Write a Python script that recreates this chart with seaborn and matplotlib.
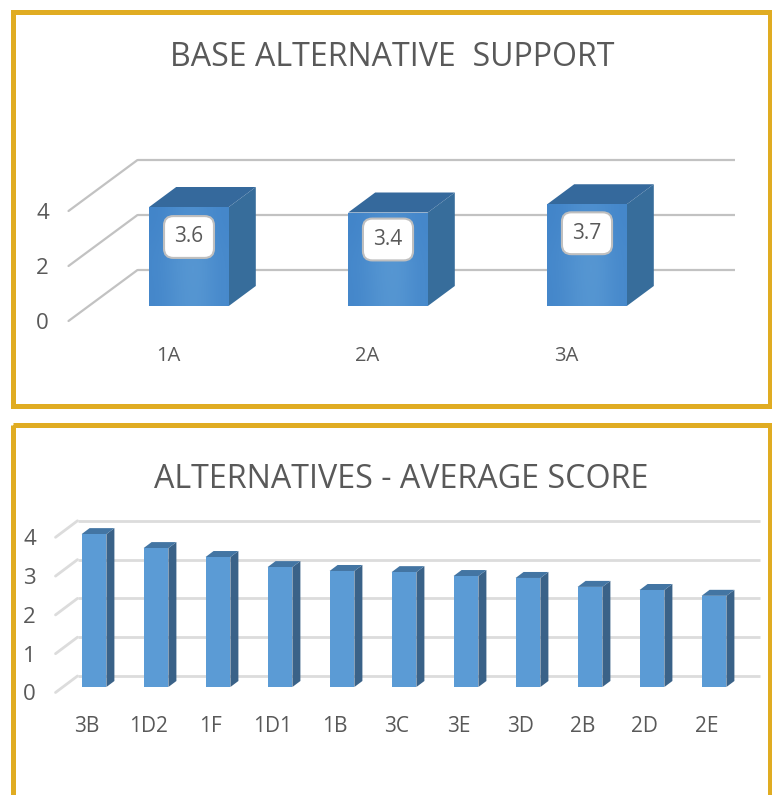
import matplotlib
matplotlib.use("Agg")
import matplotlib.pyplot as plt
import seaborn as sns
from matplotlib.colors import LinearSegmentedColormap
from matplotlib.patches import Polygon, Rectangle
from matplotlib.transforms import Affine2D

W, H = 772, 795

TOP_TITLE = "BASE ALTERNATIVE  SUPPORT"
TOP_CATS = ["1A", "2A", "3A"]
TOP_VALUES = [3.6, 3.4, 3.7]
TOP_TICKS = [0, 2, 4]

BOTTOM_TITLE = "ALTERNATIVES - AVERAGE SCORE"
BOTTOM_CATS = ["3B", "1D2", "1F", "1D1", "1B", "3C", "3E", "3D", "2B", "2D", "2E"]
BOTTOM_VALUES = [3.94, 3.58, 3.35, 3.09, 2.99, 2.96, 2.86, 2.81, 2.58, 2.50, 2.35]
BOTTOM_TICKS = [0, 1, 2, 3, 4]

GOLD = "#E0AC22"
TEXT = "#595959"


def make_axes(fig, left, right, base, top):
    # rectangle given in image pixels, y counted from the top
    return fig.add_axes([left / W, 1 - base / H, (right - left) / W, (base - top) / H])


def fake_3d_bars(ax, cats, values, ticks, color, side, roof, grid, grid_lw,
                 back, front, depth, tick_size, cat_size, xpad, ypad, width=0.4):
    ymax = ticks[-1]
    sns.barplot(x=cats, y=values, color=color, saturation=1, width=width, ax=ax,
                zorder=3, linewidth=0, edgecolor="none")
    ax.set_xlim(-0.5, len(cats) - 0.5)
    ax.set_ylim(0, ymax)
    box = ax.get_window_extent()
    ux = (len(cats)) / box.width
    uy = ymax / box.height
    x0, x1 = ax.get_xlim()

    # back wall and left wall grid lines
    for t in ticks:
        ax.plot([x0 + back[0] * ux, x1 + back[0] * ux], [t + back[1] * uy] * 2,
                color=grid, lw=grid_lw, clip_on=False, zorder=1, solid_capstyle="butt")
        ax.plot([x0 - front[0] * ux, x0 + back[0] * ux], [t - front[1] * uy, t + back[1] * uy],
                color=grid, lw=grid_lw, clip_on=False, zorder=1)

    # side and roof of every bar
    dx, dy = depth[0] * ux, depth[1] * uy
    for bar in list(ax.patches):
        xa, xb = bar.get_x(), bar.get_x() + bar.get_width()
        v = bar.get_height()
        ax.add_patch(Polygon([(xb, 0), (xb + dx, dy), (xb + dx, v + dy), (xb, v)],
                             fc=side, ec="none", clip_on=False, zorder=2))
        ax.add_patch(Polygon([(xa, v), (xa + dx, v + dy), (xb + dx, v + dy), (xb, v)],
                             fc=roof, ec="none", clip_on=False, zorder=2))

    ax.set_xticks(range(len(cats)), cats)
    ax.set_yticks(ticks)
    ax.tick_params(axis="both", length=0, colors=TEXT)
    ax.tick_params(axis="x", labelsize=cat_size, pad=xpad)
    ax.tick_params(axis="y", labelsize=tick_size, pad=ypad)
    # tick labels sit on the front edge of the floor
    shift = Affine2D().translate(-front[0], -front[1])
    for tick in ax.xaxis.get_major_ticks() + ax.yaxis.get_major_ticks():
        tick.label1.set_transform(tick.label1.get_transform() + shift)
    sns.despine(ax=ax, left=True, bottom=True)
    ax.patch.set_alpha(0)


def shade_fronts(ax, count):
    # soft glow on the front face of the big bars
    cmap = LinearSegmentedColormap.from_list("front", ["#3F82C8", "#5A9AD4"])
    xlim, ylim = ax.get_xlim(), ax.get_ylim()
    for bar in list(ax.patches)[:count]:
        x, w, h = bar.get_x(), bar.get_width(), bar.get_height()
        im = ax.imshow([[0.1, 0.5, 0.55, 0.2], [0.25, 0.8, 1.0, 0.3], [0.2, 0.7, 0.9, 0.3]],
                       extent=(x, x + w, 0, h), aspect="auto", cmap=cmap, vmin=0, vmax=1,
                       interpolation="bicubic", zorder=3.5)
        im.set_clip_path(bar)
    ax.set_xlim(xlim)
    ax.set_ylim(ylim)


sns.set_style("white")
plt.rcParams["font.family"] = ["Open Sans", "DejaVu Sans"]

fig = plt.figure(figsize=(W / 100, H / 100), dpi=100, facecolor="white")

# gold frames
px = Affine2D().scale(1, -1).translate(0, H)
for (x, y, w, h) in [(12.5, 11.5, 757, 394), (12.5, 424.5, 757, 400)]:
    fig.add_artist(Rectangle((x, y), w, h, fc="none", ec=GOLD, lw=3.6, transform=px))

fig.text(392 / W, 1 - 57 / H, TOP_TITLE, ha="center", va="center", fontsize=23.1, color=TEXT)
fig.text(401 / W, 1 - 480 / H, BOTTOM_TITLE, ha="center", va="center", fontsize=23.2, color=TEXT)

ax1 = make_axes(fig, 89.5, 686.5, 306, 196)
fake_3d_bars(ax1, TOP_CATS, TOP_VALUES, TOP_TICKS, "#4C8DCD", "#376D9B", "#35699C", "#C2C2C2", 1.6,
             back=(48, 36), front=(21, 15), depth=(27, 20), tick_size=16, cat_size=14.5,
             xpad=18, ypad=14)
shade_fronts(ax1, len(TOP_CATS))

# value boxes
for i, (v, nudge) in enumerate(zip(TOP_VALUES, [30, 27, 29])):
    ax1.annotate(f"{v:.1f}", xy=(i, v), xytext=(0, -nudge * 0.72), textcoords="offset points",
                 ha="center", va="center", fontsize=15, color=TEXT, zorder=5,
                 bbox=dict(boxstyle="round,pad=0.5,rounding_size=0.45", fc="white", ec="#BFBFBF", lw=1.5))

ax2 = make_axes(fig, 63, 745, 687, 531.8)
fake_3d_bars(ax2, BOTTOM_CATS, BOTTOM_VALUES, BOTTOM_TICKS, "#5B9BD5", "#3A6288", "#4375A3", "#DCDCDC", 2.0,
             back=(14.5, 11), front=(7.5, 5.5), depth=(8, 6), tick_size=16, cat_size=15,
             xpad=17, ypad=14)

fig.savefig("out.png", dpi=100)
